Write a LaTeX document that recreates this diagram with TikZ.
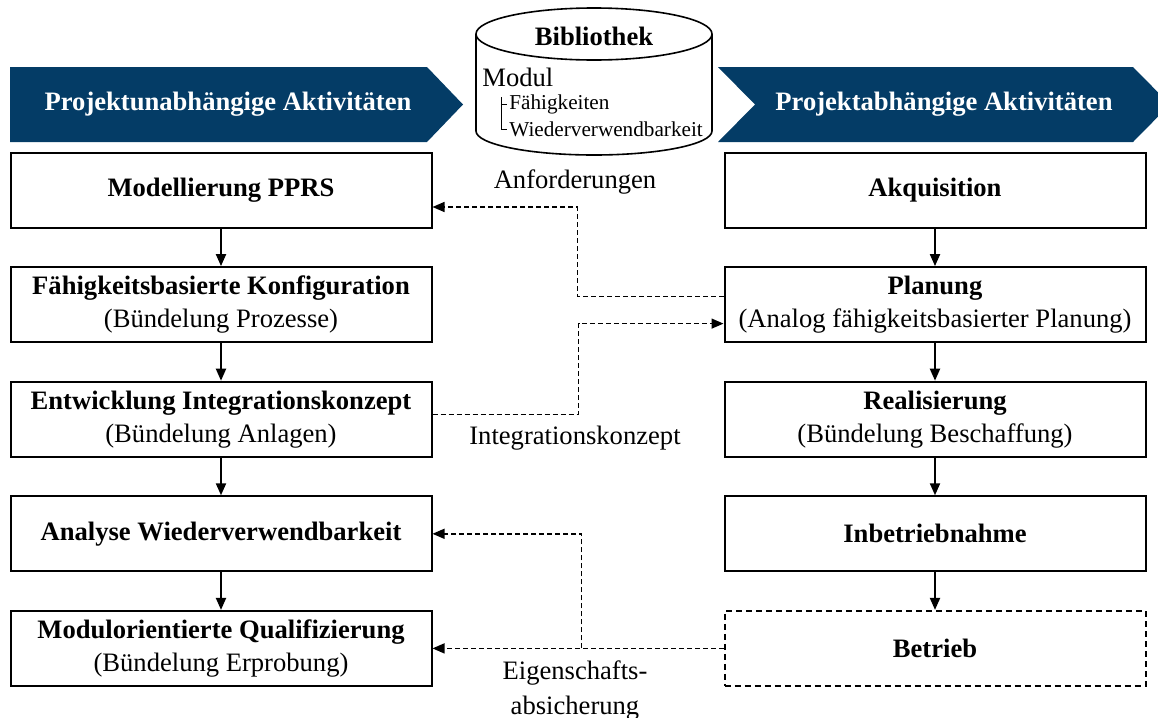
\documentclass[tikz,border=0pt]{standalone}
\usepackage{fontspec}
\setmainfont{Liberation Serif}
\usepackage{tikz}
\usetikzlibrary{arrows.meta,positioning}
\usepackage{xcolor}
\definecolor{bannerblue}{RGB}{4,60,102}

\begin{document}
\begin{tikzpicture}[x=0.5pt,y=-0.5pt,node distance=18.8pt and 145.5pt,>={Triangle[length=6pt,width=5pt]},
box/.style={draw,line width=1pt,align=center,font=\fontsize{13.3}{16.5}\selectfont,minimum width=210.5pt,minimum height=37.5pt,inner sep=2pt},
headtext/.style={text=white,font=\fontsize{13.3}{16}\selectfont\bfseries},
lbl/.style={align=center,font=\fontsize{13.3}{17.5}\selectfont},
flow/.style={->,line width=1pt},
dep/.style={->,line width=0.7pt,dash pattern=on 2.5pt off 1.5pt}]
\useasboundingbox (0,0) rectangle (1158,718);
% Kopfzeilen
\fill[bannerblue] (10,67)--(427,67)--(463,104.5)--(427,142)--(10,142)--cycle;
\fill[bannerblue] (718,67)--(1133,67)--(1170,104.5)--(1133,142)--(718,142)--(755,104.5)--cycle;
\node[headtext] (lhead) at (228,104.5) {Projektunabhängige Aktivitäten};
\node[headtext] (rhead) at (944,104.5) {Projektabhängige Aktivitäten};
% Bibliothek
\draw[line width=0.8pt] (476,34)--(476,131) arc[start angle=180,end angle=360,x radius=59pt,y radius=12pt]--(712,34);
\draw[line width=0.8pt] (594,34) ellipse[x radius=59pt,y radius=13pt];
\node[font=\fontsize{13.3}{16}\selectfont\bfseries] (bib) at (594,36) {Bibliothek};
\node[anchor=west,inner sep=0pt,font=\fontsize{13.3}{16}\selectfont] (modul) at (482,77) {Modul};
\node[anchor=west,inner sep=0pt,font=\fontsize{10.6}{13}\selectfont] (faeh) at (509,104) {Fähigkeiten};
\node[anchor=west,inner sep=0pt,font=\fontsize{10.6}{13}\selectfont] (wied) at (509,129) {Wiederverwendbarkeit};
\draw[line width=0.5pt] (501,97)--(501,129)--(507,129) (501,104)--(507,104);
% linke Spalte
\node[box] (m1) at (221,190) {\textbf{Modellierung PPRS}};
\node[box,below=of m1] (m2) {\textbf{Fähigkeitsbasierte Konfiguration}\\(Bündelung Prozesse)};
\node[box,below=of m2] (m3) {\textbf{Entwicklung Integrationskonzept}\\(Bündelung Anlagen)};
\node[box,below=of m3] (m4) {\textbf{Analyse Wiederverwendbarkeit}};
\node[box,below=of m4] (m5) {\textbf{Modulorientierte Qualifizierung}\\(Bündelung Erprobung)};
% rechte Spalte
\node[box,right=of m1] (p1) {\textbf{Akquisition}};
\node[box,below=of p1] (p2) {\textbf{Planung}\\(Analog fähigkeitsbasierter Planung)};
\node[box,below=of p2] (p3) {\textbf{Realisierung}\\(Bündelung Beschaffung)};
\node[box,below=of p3] (p4) {\textbf{Inbetriebnahme}};
\node[box,below=of p4,dash pattern=on 3pt off 2pt] (p5) {\textbf{Betrieb}};
\draw[flow] (m1)--(m2);\draw[flow] (m2)--(m3);\draw[flow] (m3)--(m4);\draw[flow] (m4)--(m5);
\draw[flow] (p1)--(p2);\draw[flow] (p2)--(p3);\draw[flow] (p3)--(p4);\draw[flow] (p4)--(p5);
% Querbeziehungen
\draw[dep] ([yshift=4pt]p2.west)--++(-146,0)|-([yshift=-8.5pt]m1.east);
\draw[dep] ([yshift=2.5pt]m3.east)--++(146,0)|-([yshift=-9.5pt]p2.west);
\draw[dep] (p5.west)--(m5.east);
\draw[dep] (p5.west)++(-142,0)|-(m4.east);
\node[lbl] (anf) at (575,182) {Anforderungen};
\node[lbl] (ik) at (575,438) {Integrationskonzept};
\node[lbl] (eig) at (575,690) {Eigenschafts-\\absicherung};
\end{tikzpicture}
\end{document}
